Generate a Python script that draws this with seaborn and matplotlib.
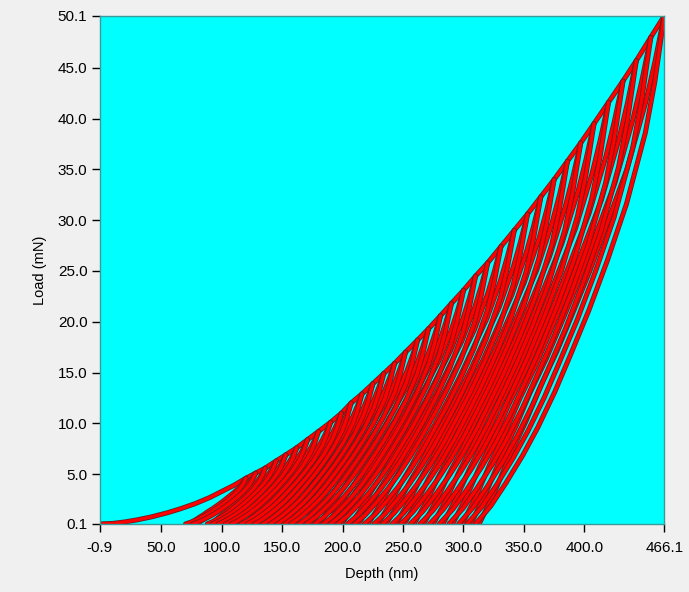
import numpy as np
import pandas as pd
import matplotlib.pyplot as plt
import matplotlib.patheffects as pe
import seaborn as sns

# loading envelope below the first cycle (depth nm, load mN)
env_depth = [-0.9, 10.0, 20.0, 30.0, 42.0, 55.0, 66.0, 78.0, 90.0, 100.0, 110.0]
env_load = [0.1, 0.15, 0.3, 0.5, 0.8, 1.2, 1.6, 2.1, 2.7, 3.3, 3.9]

# unload/reload cycles: peak depth, peak load, residual depth
peak_depth = [120, 128, 136, 145, 153, 162, 171, 180, 190, 199, 207, 216,
              225, 234, 243, 252, 262, 271, 281, 290, 300, 310, 320, 331,
              342, 353, 364, 375, 386, 397, 408, 420, 432, 443, 455, 466.1]
peak_load = [4.6, 5.1, 5.6, 6.3, 6.9, 7.6, 8.4, 9.2, 10.1, 11.0, 12.0, 12.9,
             13.9, 14.9, 15.9, 17.0, 18.2, 19.3, 20.6, 21.8, 23.1, 24.5, 25.8, 27.4,
             29.0, 30.6, 32.3, 34.0, 35.8, 37.6, 39.5, 41.6, 43.7, 45.7, 48.0, 50.1]
resid_depth = [70, 76, 88, 92, 97, 103, 108, 116, 121, 127, 134, 140,
               146, 152, 157, 164, 170, 177, 184, 190, 196, 204, 210, 218,
               226, 233, 241, 248, 256, 264, 272, 280, 288, 296, 303, 310]

# normalised curve shapes read from the cycles
frac_depth = [0, 0.08, 0.16, 0.25, 0.33, 0.42, 0.5, 0.6, 0.7, 0.8, 0.9, 0.95, 1.0]
unload_frac = [0, 0.035, 0.08, 0.135, 0.19, 0.26, 0.33, 0.42, 0.52, 0.63, 0.77, 0.87, 1.0]
reload_frac = [0, 0.06, 0.13, 0.20, 0.27, 0.34, 0.41, 0.50, 0.60, 0.70, 0.83, 0.91, 1.0]

x_ticks = [-0.9, 50, 100, 150, 200, 250, 300, 350, 400, 466.1]
x_labels = ["-0.9", "50.0", "100.0", "150.0", "200.0", "250.0", "300.0", "350.0", "400.0", "466.1"]
y_ticks = [0.1, 5, 10, 15, 20, 25, 30, 35, 40, 45, 50.1]
y_labels = ["0.1", "5.0", "10.0", "15.0", "20.0", "25.0", "30.0", "35.0", "40.0", "45.0", "50.1"]

rows = []
# loading envelope through the peaks
for d, l in zip(env_depth + peak_depth, env_load + peak_load):
    rows.append(("env", d, l))
for i, (hp, lp, hr) in enumerate(zip(peak_depth, peak_load, resid_depth)):
    for f, p in zip(frac_depth[::-1], unload_frac[::-1]):
        rows.append((f"u{i}", hr + f * (hp - hr), 0.1 + p * (lp - 0.1)))
    for f, p in zip(frac_depth, reload_frac):
        rows.append((f"r{i}", hr + f * (hp - hr) + 3.0 * (1 - f), 0.1 + p * (lp - 0.1)))
df = pd.DataFrame(rows, columns=["curve", "depth", "load"])

sns.set_style("ticks")
plt.rcParams["font.family"] = ["Liberation Sans", "DejaVu Sans"]

fig = plt.figure(figsize=(6.89, 5.92), dpi=100, facecolor="#f0f0f0")
ax = fig.add_axes([0.145, 0.115, 0.819, 0.858])
ax.set_facecolor("#00ffff")

sns.lineplot(data=df, x="depth", y="load", units="curve", estimator=None,
             sort=False, color="#ff0000", linewidth=2.4, ax=ax, legend=False)
for ln in ax.lines:
    ln.set_path_effects([pe.Stroke(linewidth=3.6, foreground="#6a1c1c"), pe.Normal()])

ax.set_xlim(-0.9, 466.1)
ax.set_ylim(0.1, 50.1)
ax.set_xticks(x_ticks)
ax.set_xticklabels(x_labels)
ax.set_yticks(y_ticks)
ax.set_yticklabels(y_labels)
ax.tick_params(direction="out", length=6, width=1, color="black", labelcolor="black",
               labelsize=11, pad=3)
ax.tick_params(axis="x", pad=6)
ax.set_xlabel("Depth (nm)", fontsize=10.5, labelpad=9, color="black")
ax.set_ylabel("Load (mN)", fontsize=10.5, labelpad=8, color="black")
for s in ax.spines.values():
    s.set_color("#3a9a9a")
    s.set_linewidth(1)

plt.savefig("out.png", dpi=100, facecolor=fig.get_facecolor())
